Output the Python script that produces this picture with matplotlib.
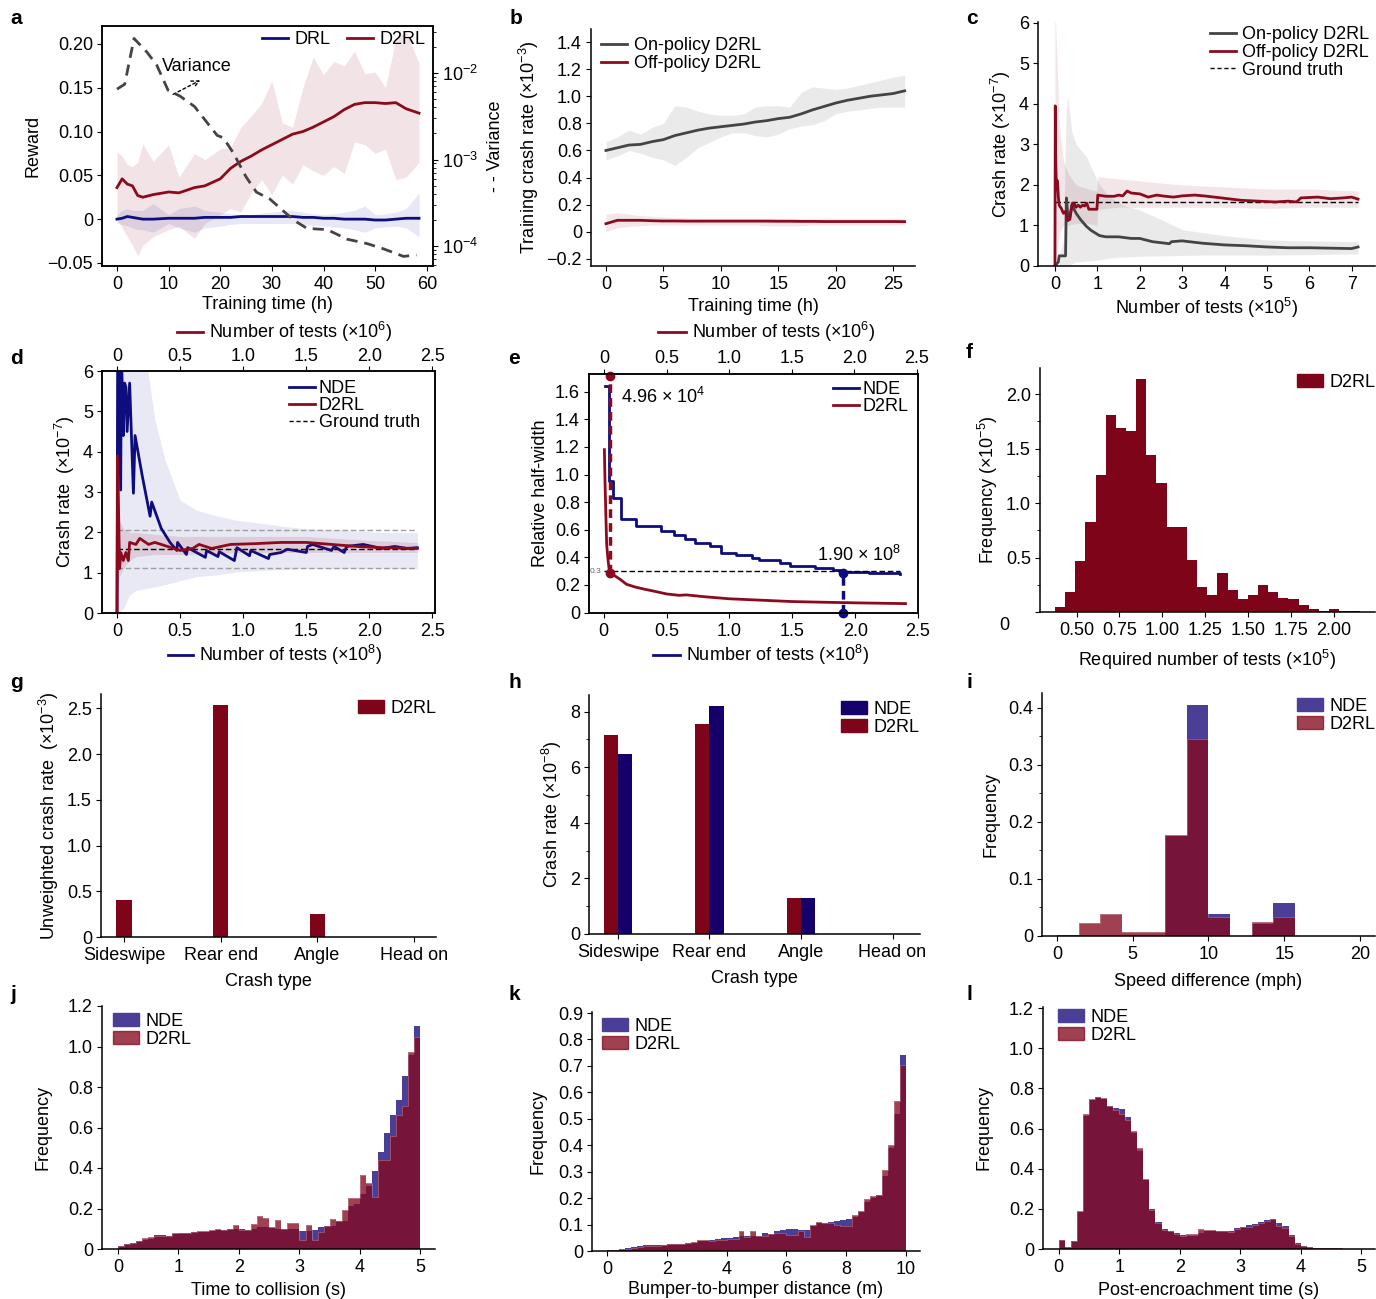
import matplotlib
matplotlib.use('Agg')
import matplotlib.pyplot as plt
from matplotlib.lines import Line2D
from matplotlib.patches import Patch
import numpy as np

plt.rcParams['font.family'] = ['Liberation Sans', 'DejaVu Sans']
plt.rcParams['font.size'] = 13
plt.rcParams['mathtext.fontset'] = 'custom'
plt.rcParams['mathtext.rm'] = 'Liberation Sans'
plt.rcParams['mathtext.it'] = 'Liberation Sans:italic'
plt.rcParams['mathtext.bf'] = 'Liberation Sans:bold'
plt.rcParams['mathtext.default'] = 'regular'
plt.rcParams['axes.linewidth'] = 1.1
plt.rcParams['xtick.major.size'] = 3.5
plt.rcParams['ytick.major.size'] = 3.5
plt.rcParams['xtick.minor.size'] = 2
plt.rcParams['ytick.minor.size'] = 2
plt.rcParams['xtick.major.pad'] = 4
plt.rcParams['ytick.major.pad'] = 3

RED = '#8b0a1e'
BLUE = '#0d0d7d'
GRAY = '#444444'
BAR_RED = '#7e0519'
BAR_BLUE = '#15006b'
H_BLUE = '#4b3e96'
H_RED = '#84081e'

# ---------------- data ----------------
# a: reward vs training time
a_t = [0, 1, 2, 3, 4, 5, 7, 10, 12, 15, 17, 20, 22, 24, 26, 28, 30, 32, 34, 36, 38, 40, 42, 44, 46, 48, 50, 52, 54, 56, 58.5]
a_d2rl = [0.036, 0.046, 0.040, 0.038, 0.027, 0.025, 0.028, 0.031, 0.030, 0.036, 0.038, 0.046, 0.058, 0.066, 0.072, 0.079,
          0.085, 0.091, 0.097, 0.100, 0.105, 0.111, 0.117, 0.125, 0.131, 0.133, 0.133, 0.132, 0.133, 0.126, 0.121]
a_d2rl_up = [0.077, 0.072, 0.062, 0.060, 0.065, 0.086, 0.066, 0.085, 0.048, 0.075, 0.068, 0.080, 0.082, 0.105, 0.118, 0.132,
             0.158, 0.110, 0.105, 0.150, 0.185, 0.165, 0.180, 0.175, 0.192, 0.166, 0.168, 0.150, 0.206, 0.215, 0.178]
a_d2rl_lo = [0.0, -0.010, -0.020, -0.030, -0.042, -0.030, -0.020, -0.012, -0.008, -0.022, -0.005, 0.005, 0.012, 0.008, 0.030,
             0.045, 0.028, 0.050, 0.040, 0.062, 0.055, 0.050, 0.060, 0.052, 0.088, 0.085, 0.075, 0.080, 0.045, 0.048, 0.065]
a_drl = [0.0, 0.001, 0.003, 0.002, 0.001, 0.0, 0.0, 0.001, 0.001, 0.001, 0.002, 0.002, 0.002, 0.003, 0.003, 0.003, 0.003,
         0.003, 0.003, 0.002, 0.002, 0.001, 0.001, 0.0, 0.0, 0.0, -0.001, -0.001, 0.0, 0.001, 0.001]
a_drl_up = [0.005, 0.010, 0.012, 0.010, 0.010, 0.010, 0.018, 0.005, 0.012, 0.015, 0.010, 0.008, 0.006, 0.005, 0.005, 0.007,
            0.008, 0.009, 0.010, 0.008, 0.006, 0.005, 0.006, 0.008, 0.010, 0.015, 0.005, 0.006, 0.008, 0.012, 0.030]
a_drl_lo = [-0.005, -0.006, -0.008, -0.010, -0.012, -0.012, -0.015, -0.005, -0.010, -0.015, -0.010, -0.008, -0.006, -0.005,
            -0.005, -0.005, -0.005, -0.005, -0.005, -0.006, -0.007, -0.008, -0.009, -0.010, -0.012, -0.015, -0.010, -0.009,
            -0.008, -0.010, -0.020]
var_t = [0, 1.5, 3.3, 5.8, 7.7, 9.9, 12.2, 15, 19.4, 20.6, 22.5, 25, 27, 29.6, 34.2, 36.8, 40.7, 44.6, 48.4, 51.6, 55.5, 58]
var_v = [6.5e-3, 7.4e-3, 2.5e-2, 1.74e-2, 1.23e-2, 6.3e-3, 5.4e-3, 4.1e-3, 1.9e-3, 1.78e-3, 1.2e-3, 6.3e-4, 4.2e-4, 3.5e-4,
         2.0e-4, 1.6e-4, 1.55e-4, 1.2e-4, 1.07e-4, 9.3e-5, 7.6e-5, 7.9e-5]

# b: training crash rate
b_t = list(range(27))
b_on = [0.60, 0.62, 0.64, 0.645, 0.665, 0.68, 0.71, 0.73, 0.75, 0.765, 0.775, 0.785, 0.795, 0.81, 0.82, 0.835, 0.845, 0.87,
        0.90, 0.925, 0.95, 0.97, 0.985, 1.0, 1.01, 1.02, 1.04]
b_on_up = [0.665, 0.70, 0.75, 0.72, 0.77, 0.80, 0.93, 0.92, 0.89, 0.87, 0.86, 0.86, 0.87, 0.92, 0.93, 0.93, 0.92, 1.03, 1.07,
           1.06, 1.05, 1.06, 1.08, 1.10, 1.12, 1.14, 1.155]
b_on_lo = [0.53, 0.56, 0.60, 0.58, 0.55, 0.53, 0.49, 0.55, 0.62, 0.66, 0.70, 0.73, 0.73, 0.71, 0.70, 0.72, 0.76, 0.78, 0.79,
           0.82, 0.87, 0.89, 0.90, 0.91, 0.92, 0.92, 0.92]
b_off = [0.06, 0.085, 0.085, 0.085, 0.082, 0.08, 0.08, 0.079, 0.079, 0.079, 0.079, 0.079, 0.079, 0.079, 0.079, 0.078, 0.078,
         0.077, 0.077, 0.076, 0.076, 0.076, 0.076, 0.076, 0.076, 0.076, 0.075]
b_off_up = [0.13, 0.14, 0.13, 0.12, 0.115, 0.11, 0.105, 0.105, 0.10, 0.10, 0.10, 0.10, 0.10, 0.10, 0.10, 0.10, 0.10, 0.10,
            0.10, 0.10, 0.10, 0.10, 0.10, 0.10, 0.10, 0.10, 0.10]
b_off_lo = [0.0, 0.03, 0.04, 0.045, 0.05, 0.05, 0.05, 0.05, 0.05, 0.05, 0.05, 0.05, 0.05, 0.05, 0.045, 0.045, 0.045, 0.045,
            0.05, 0.05, 0.05, 0.05, 0.05, 0.05, 0.05, 0.05, 0.05]

# c: crash rate vs number of tests (x1e5)
c_off_x = [0, 0.008, 0.015, 0.025, 0.04, 0.06, 0.08, 0.1, 0.15, 0.2, 0.25, 0.3, 0.35, 0.4, 0.45, 0.5, 0.55, 0.6, 0.65, 0.7,
           0.75, 0.8, 0.9, 0.99, 1.01, 1.2, 1.4, 1.5, 1.6, 1.7, 1.8, 2.0, 2.2, 2.4, 2.6, 2.8, 3.0, 3.3, 3.6, 4.0, 4.4, 4.8,
           5.2, 5.5, 5.7, 5.8, 6.2, 6.5, 6.8, 7.0, 7.15]
c_off_y = [0, 3.95, 2.8, 2.3, 1.9, 2.1, 1.7, 1.5, 1.42, 1.3, 1.35, 1.12, 1.15, 1.5, 1.55, 1.45, 1.5, 1.45, 1.5, 1.48, 1.55,
           1.4, 1.4, 1.4, 1.75, 1.72, 1.72, 1.75, 1.73, 1.85, 1.80, 1.78, 1.7, 1.75, 1.72, 1.7, 1.73, 1.75, 1.72, 1.67, 1.62,
           1.6, 1.58, 1.6, 1.58, 1.68, 1.7, 1.66, 1.68, 1.7, 1.65]
c_off_bx = [0, 0.05, 0.1, 0.2, 0.3, 0.5, 0.8, 0.99, 1.01, 1.5, 2.0, 3.0, 4.0, 5.0, 6.0, 7.15]
c_off_up = [6.5, 5.0, 3.5, 2.6, 2.3, 2.0, 1.9, 1.85, 2.2, 2.15, 2.1, 2.0, 1.95, 1.9, 1.9, 1.85]
c_off_lo = [0, 0.4, 0.8, 1.0, 1.0, 1.05, 1.05, 1.0, 1.4, 1.45, 1.45, 1.45, 1.45, 1.42, 1.45, 1.45]
c_on_x = [0, 0.08, 0.1, 0.25, 0.27, 0.3, 0.35, 0.41, 0.45, 0.5, 0.6, 0.74, 0.85, 1.05, 1.2, 1.5, 1.8, 2.0, 2.3, 2.7, 2.75,
          3.0, 3.5, 4.0, 4.5, 5.0, 5.5, 6.0, 6.5, 7.0, 7.15]
c_on_y = [0, 0.1, 0.25, 0.25, 1.68, 1.3, 1.2, 1.55, 1.4, 1.3, 1.15, 0.98, 0.88, 0.75, 0.72, 0.72, 0.68, 0.68, 0.6, 0.55, 0.6,
          0.62, 0.56, 0.52, 0.5, 0.47, 0.45, 0.45, 0.44, 0.43, 0.47]
c_on_bx = [0.1, 0.2, 0.26, 0.3, 0.4, 0.5, 0.74, 1.05, 1.3, 1.6, 2.0, 2.5, 3.0, 3.5, 4.0, 5.0, 6.0, 7.15]
c_on_up = [0.3, 0.6, 3.7, 4.2, 3.3, 3.0, 2.7, 2.0, 1.7, 1.5, 1.38, 1.15, 0.9, 0.82, 0.75, 0.64, 0.62, 0.6]
c_on_lo = [0, 0, 0, 0, 0.05, 0.1, 0.12, 0.15, 0.2, 0.22, 0.24, 0.25, 0.26, 0.27, 0.27, 0.27, 0.28, 0.3]
c_truth = 1.58

# d: NDE (x1e8) vs D2RL (x1e6)
d_nde_x = [0, 0.005, 0.011, 0.029, 0.035, 0.05, 0.06, 0.071, 0.08, 0.1, 0.13, 0.143, 0.2, 0.262, 0.275, 0.35, 0.42, 0.474,
           0.48, 0.55, 0.56, 0.7, 0.71, 0.8, 0.81, 0.93, 0.95, 1.05, 1.06, 1.2, 1.21, 1.3, 1.35, 1.5, 1.51, 1.55, 1.7, 1.72,
           1.8, 1.82, 1.95, 2.1, 2.2, 2.3, 2.38]
d_nde_y = [0, 6.5, 6.5, 3.05, 6.5, 4.4, 5.7, 5.6, 4.5, 5.7, 2.97, 4.4, 3.4, 2.4, 2.75, 2.1, 1.75, 1.55, 1.75, 1.45, 1.62,
           1.38, 1.55, 1.4, 1.52, 1.3, 1.62, 1.42, 1.55, 1.35, 1.45, 1.5, 1.58, 1.5, 1.65, 1.7, 1.55, 1.65, 1.5, 1.65, 1.7,
           1.6, 1.65, 1.6, 1.62]
d_nde_bx = [0, 0.05, 0.1, 0.15, 0.22, 0.3, 0.38, 0.5, 0.63, 0.8, 0.95, 1.2, 1.45, 1.8, 2.1, 2.38]
d_nde_up = [6.5, 6.5, 6.5, 6.5, 6.5, 4.8, 3.8, 2.8, 2.55, 2.4, 2.3, 2.2, 2.1, 2.05, 2.0, 2.0]
d_nde_lo = [0, 0.1, 0.45, 0.56, 0.6, 0.65, 0.7, 0.8, 0.9, 0.95, 1.02, 1.06, 1.1, 1.1, 1.1, 1.1]
d_d2rl_x = [0, 0.005, 0.02, 0.03, 0.05, 0.07, 0.09, 0.1, 0.15, 0.18, 0.25, 0.3, 0.4, 0.5, 0.6, 0.65, 0.75, 0.9, 1.1, 1.3,
            1.5, 1.7, 1.9, 2.1, 2.38]
d_d2rl_y = [0, 3.9, 1.1, 1.5, 1.3, 1.5, 1.3, 1.75, 1.7, 1.85, 1.7, 1.75, 1.65, 1.55, 1.6, 1.7, 1.6, 1.7, 1.72, 1.75, 1.75,
            1.7, 1.65, 1.62, 1.6]
d_d2rl_bx = [0, 0.005, 0.02, 0.05, 0.1, 0.15, 0.3, 0.5, 1.0, 1.5, 2.0, 2.38]
d_d2rl_up = [4.5, 5.0, 2.3, 2.1, 2.0, 2.0, 1.95, 1.9, 1.9, 1.9, 1.8, 1.75]
d_d2rl_lo = [0, 0.5, 0.9, 1.1, 1.3, 1.4, 1.45, 1.45, 1.5, 1.5, 1.5, 1.5]
d_truth = 1.58
d_ci = [2.05, 1.12]

# e: relative half-width
e_nde_x = [0.013, 0.039, 0.073, 0.138, 0.256, 0.459, 0.556, 0.647, 0.730, 0.842, 0.934, 1.05, 1.18, 1.233, 1.40, 1.48,
           1.677, 1.82, 1.91, 2.107, 2.355]
e_nde_y = [1.64, 0.95, 0.83, 0.68, 0.63, 0.59, 0.56, 0.53, 0.505, 0.48, 0.433, 0.42, 0.397, 0.38, 0.36, 0.337, 0.325,
           0.308, 0.293, 0.284, 0.277]
e_d2rl_x = [0.003, 0.008, 0.015, 0.021, 0.03, 0.04, 0.05, 0.08, 0.13, 0.18, 0.25, 0.32, 0.4, 0.5, 0.6, 0.66, 0.8, 1.0, 1.25,
            1.5, 1.75, 2.05, 2.41]
e_d2rl_y = [1.18, 0.95, 0.7, 0.5, 0.4, 0.32, 0.29, 0.27, 0.24, 0.205, 0.185, 0.17, 0.155, 0.135, 0.125, 0.128, 0.115, 0.10,
            0.09, 0.08, 0.075, 0.07, 0.065]
e_thr = 0.3
e_d2rl_need = 0.0496   # x1e6
e_nde_need = 1.90      # x1e8

# f: required number of tests histogram (x1e5)
f_start, f_width = 0.374, 0.0592
f_freq = [0.046, 0.18, 0.47, 0.83, 1.26, 1.81, 1.69, 1.66, 2.14, 1.44, 1.18, 0.78, 0.78, 0.48, 0.23, 0.16, 0.36, 0.20,
          0.12, 0.16, 0.245, 0.18, 0.13, 0.12, 0.06, 0.025, 0.01, 0.028, 0.01, 0.01]

# g, h: crash types
crash_types = ['Sideswipe', 'Rear end', 'Angle', 'Head on']
g_d2rl = [0.41, 2.54, 0.25, 0.0]
h_d2rl = [7.16, 7.55, 1.29, 0.0]
h_nde = [6.47, 8.2, 1.29, 0.0]

# i: speed difference
i_nde = [0.002, 0.0, 0.0, 0.0, 0.0, 0.175, 0.406, 0.039, 0.0, 0.021, 0.058, 0.0, 0.0, 0.0]
i_d2rl = [0.0023, 0.023, 0.039, 0.0076, 0.0076, 0.177, 0.345, 0.033, 0.0, 0.025, 0.033, 0.0, 0.0, 0.0]

# j: time to collision (0.1 s bins)
j_nde = [0.015, 0.024, 0.03, 0.04, 0.045, 0.05, 0.068, 0.068, 0.064, 0.076, 0.078, 0.079, 0.082, 0.085, 0.084, 0.09,
         0.094, 0.095, 0.097, 0.10, 0.10, 0.093, 0.10, 0.11, 0.11, 0.105, 0.10, 0.098, 0.10, 0.10, 0.09, 0.09, 0.092,
         0.107, 0.112, 0.115, 0.14, 0.14, 0.21, 0.22, 0.27, 0.31, 0.385, 0.48, 0.575, 0.66, 0.735, 0.855, 0.96, 1.103]
j_d2rl = [0.016, 0.025, 0.03, 0.041, 0.054, 0.059, 0.066, 0.066, 0.063, 0.077, 0.079, 0.079, 0.084, 0.087, 0.087, 0.096,
          0.10, 0.096, 0.099, 0.119, 0.096, 0.092, 0.122, 0.165, 0.152, 0.109, 0.145, 0.099, 0.129, 0.129, 0.046, 0.119,
          0.043, 0.082, 0.112, 0.148, 0.14, 0.194, 0.252, 0.252, 0.363, 0.326, 0.255, 0.438, 0.438, 0.557, 0.664, 0.705,
          0.972, 1.047]

# k: bumper-to-bumper distance (0.2 m bins)
k_nde = [0.003, 0.005, 0.007, 0.012, 0.016, 0.02, 0.022, 0.022, 0.023, 0.024, 0.025, 0.026, 0.027, 0.029, 0.032, 0.036,
         0.038, 0.04, 0.045, 0.048, 0.05, 0.052, 0.055, 0.055, 0.057, 0.058, 0.068, 0.065, 0.075, 0.08, 0.085, 0.085,
         0.08, 0.08, 0.095, 0.105, 0.105, 0.108, 0.115, 0.118, 0.12, 0.128, 0.148, 0.185, 0.2, 0.21, 0.285, 0.39, 0.52,
         0.74]
k_d2rl = [0.003, 0.004, 0.006, 0.009, 0.013, 0.015, 0.018, 0.018, 0.02, 0.021, 0.025, 0.026, 0.028, 0.03, 0.034, 0.04,
          0.04, 0.038, 0.04, 0.042, 0.045, 0.045, 0.077, 0.053, 0.077, 0.057, 0.055, 0.066, 0.069, 0.069, 0.062, 0.059,
          0.074, 0.053, 0.097, 0.111, 0.107, 0.107, 0.100, 0.095, 0.095, 0.135, 0.15, 0.195, 0.208, 0.213, 0.305, 0.402,
          0.567, 0.702]

# l: post-encroachment time (0.1 s bins)
l_nde = [0.046, 0.012, 0.042, 0.185, 0.66, 0.74, 0.755, 0.745, 0.71, 0.70, 0.695, 0.655, 0.58, 0.49, 0.345, 0.20, 0.135,
         0.10, 0.09, 0.08, 0.07, 0.065, 0.065, 0.08, 0.09, 0.09, 0.09, 0.09, 0.09, 0.105, 0.11, 0.12, 0.125, 0.135, 0.145,
         0.15, 0.13, 0.115, 0.07, 0.03, 0.015, 0.008, 0.005, 0.005, 0.005, 0.003, 0.003, 0.001, 0.001, 0.001]
l_d2rl = [0.046, 0.012, 0.038, 0.188, 0.672, 0.749, 0.757, 0.752, 0.71, 0.69, 0.674, 0.644, 0.586, 0.503, 0.349, 0.196,
          0.13, 0.093, 0.088, 0.076, 0.066, 0.076, 0.076, 0.10, 0.096, 0.093, 0.09, 0.09, 0.083, 0.10, 0.11, 0.11, 0.121,
          0.13, 0.138, 0.149, 0.113, 0.105, 0.063, 0.025, 0.013, 0.008, 0.005, 0.005, 0.005, 0.003, 0.004, 0.001, 0.001,
          0.001]

# ---------------- figure ----------------
W, H = 1376, 1299
fig = plt.figure(figsize=(W / 100, H / 100), dpi=100)


def make_ax(l, t, r, b, box=False):
    ax = fig.add_axes([l / W, 1 - b / H, (r - l) / W, (b - t) / H])
    if not box:
        ax.spines['top'].set_visible(False)
        ax.spines['right'].set_visible(False)
    return ax


def leg(ax, handles, x, y, **kw):
    opts = dict(loc='upper left', bbox_to_anchor=(x / W, 1 - y / H), bbox_transform=fig.transFigure,
                frameon=False, borderpad=0, borderaxespad=0, handlelength=1.45, handletextpad=0.35,
                labelspacing=0.05, fontsize=13)
    opts.update(kw)
    ax.legend(handles=handles, **opts)


def letter(x, y, s):
    fig.text(x / W, 1 - y / H, s, fontweight='bold', fontsize=15, va='center', ha='left')


def line_label(x0, x1, y, text, color):
    fig.add_artist(Line2D([x0 / W, x1 / W], [1 - y / H, 1 - y / H], transform=fig.transFigure, color=color, lw=2))
    fig.text((x1 + 6) / W, 1 - y / H, text, va='center', ha='left', fontsize=13)


# ---- a ----
ax = make_ax(102, 26, 433, 266, box=True)
ax.fill_between(a_t, a_d2rl_lo, a_d2rl_up, color=RED, alpha=0.11, lw=0)
ax.fill_between(a_t, a_drl_lo, a_drl_up, color='#3a3ab0', alpha=0.12, lw=0)
ax.plot(a_t, a_drl, color=BLUE, lw=2)
ax.plot(a_t, a_d2rl, color=RED, lw=2)
ax.set_xlim(-2.9, 61.2)
ax.set_ylim(-0.0535, 0.2205)
ax.set_xticks([0, 10, 20, 30, 40, 50, 60])
ax.set_yticks([-0.05, 0, 0.05, 0.10, 0.15, 0.20])
ax.set_yticklabels(['\u22120.05', '0', '0.05', '0.10', '0.15', '0.20'])
ax.set_xlabel('Training time (h)', labelpad=2)
ax.set_ylabel('Reward', labelpad=4)
ax2 = ax.twinx()
ax2.plot(var_t, var_v, color='#4a4048', lw=2, ls=(0, (4, 2.5)))
ax2.set_yscale('log')
ax2.set_ylim(10 ** -4.23, 10 ** -1.458)
ax2.set_ylabel('- - Variance', labelpad=6)
ax.annotate('', xy=(16.6, 0.160), xytext=(10.4, 0.141),
            arrowprops=dict(arrowstyle='->', ls=(0, (2, 2)), color='k', lw=1))
ax.text(8.8, 0.174, 'Variance', va='center', ha='left', fontsize=13)
leg(ax, [Line2D([], [], color=BLUE, lw=2), Line2D([], [], color=RED, lw=2)], 262, 31,
    labels=['DRL', 'D2RL'], ncol=2, columnspacing=0.9)
letter(10, 18, 'a')

# ---- b ----
ax = make_ax(591, 29, 915, 266)
ax.fill_between(b_t, b_on_lo, b_on_up, color='#9a9a9a', alpha=0.2, lw=0)
ax.fill_between(b_t, b_off_lo, b_off_up, color=RED, alpha=0.1, lw=0)
ax.plot(b_t, b_on, color=GRAY, lw=2)
ax.plot(b_t, b_off, color=RED, lw=2)
ax.set_xlim(-1.3, 26.9)
ax.set_ylim(-0.252, 1.496)
ax.set_xticks([0, 5, 10, 15, 20, 25])
ax.set_yticks([-0.2, 0, 0.2, 0.4, 0.6, 0.8, 1.0, 1.2, 1.4])
ax.set_yticklabels(['\u22120.2', '0', '0.2', '0.4', '0.6', '0.8', '1.0', '1.2', '1.4'])
ax.set_xlabel('Training time (h)', labelpad=3)
ax.set_ylabel('Training crash rate (\u00d710$^{-3}$)', labelpad=4)
leg(ax, [Line2D([], [], color=GRAY, lw=2), Line2D([], [], color=RED, lw=2)], 601, 37,
    labels=['On-policy D2RL', 'Off-policy D2RL'])
letter(510, 18, 'b')

# ---- c ----
ax = make_ax(1038, 22, 1375, 266)
ax.fill_between(c_on_bx, c_on_lo, c_on_up, color='#9a9a9a', alpha=0.2, lw=0)
ax.fill_between(c_off_bx, c_off_lo, c_off_up, color=RED, alpha=0.1, lw=0)
ax.plot([0, 7.15], [c_truth, c_truth], color='k', lw=1, ls=(0, (4, 2)))
ax.plot(c_on_x, c_on_y, color=GRAY, lw=2)
ax.plot(c_off_x, c_off_y, color=RED, lw=2)
ax.set_xlim(-0.4, 7.55)
ax.set_ylim(0, 6.02)
ax.set_xticks(range(8))
ax.set_yticks(range(7))
ax.set_xlabel('Number of tests (\u00d710$^{5}$)', labelpad=2)
ax.set_ylabel('Crash rate (\u00d710$^{-7}$)', labelpad=4)
leg(ax, [Line2D([], [], color=GRAY, lw=2), Line2D([], [], color=RED, lw=2),
         Line2D([], [], color='k', lw=1, ls=(0, (3, 2)))], 1210, 26,
    labels=['On-policy D2RL', 'Off-policy D2RL', 'Ground truth'])
letter(966, 18, 'c')

# ---- d ----
ax = make_ax(102, 371, 435, 613, box=True)
ax.fill_between(d_nde_bx, d_nde_lo, d_nde_up, color='#5a5ab8', alpha=0.13, lw=0)
for v in d_ci:
    ax.plot([0, 2.38], [v, v], color='#a0a0a0', lw=1, ls=(0, (4, 2)))
ax.plot([0, 2.38], [d_truth, d_truth], color='k', lw=1, ls=(0, (4, 2)))
ax.plot(d_nde_x, d_nde_y, color=BLUE, lw=2)
ax.set_xlim(-0.119, 2.52)
ax.set_ylim(0, 6.0)
ax.set_xticks([0, 0.5, 1.0, 1.5, 2.0, 2.5])
ax.set_xticklabels(['0', '0.5', '1.0', '1.5', '2.0', '2.5'])
ax.set_yticks(range(7))
ax.set_ylabel('Crash rate  (\u00d710$^{-7}$)', labelpad=4)
axt = ax.twiny()
axt.fill_between(d_d2rl_bx, d_d2rl_lo, d_d2rl_up, color=RED, alpha=0.12, lw=0)
axt.plot(d_d2rl_x, d_d2rl_y, color=RED, lw=2)
axt.set_xlim(-0.119, 2.52)
axt.set_ylim(0, 6.0)
axt.set_xticks([0, 0.5, 1.0, 1.5, 2.0, 2.5])
axt.set_xticklabels(['0', '0.5', '1.0', '1.5', '2.0', '2.5'])
axt.tick_params(axis='x', pad=1)
line_label(177, 203, 332, 'Number of tests (\u00d710$^{6}$)', RED)
line_label(168, 193, 655, 'Number of tests (\u00d710$^{8}$)', BLUE)
leg(axt, [Line2D([], [], color=BLUE, lw=2), Line2D([], [], color=RED, lw=2),
          Line2D([], [], color='k', lw=1, ls=(0, (3, 2)))], 289, 380,
    labels=['NDE', 'D2RL', 'Ground truth'], handletextpad=0.2, labelspacing=0.0)
letter(10, 358, 'd')

# ---- e ----
ax = make_ax(589, 374, 918, 613, box=True)
ax.plot(e_nde_x, e_nde_y, color=BLUE, lw=2, drawstyle='steps-post')
ax.plot([0, 2.36], [e_thr, e_thr], color='k', lw=1, ls=(0, (4, 2)))
ax.plot([e_nde_need, e_nde_need], [0, 0.29], color=BLUE, lw=2.5, ls=(0, (2.5, 1.5)))
ax.plot([e_nde_need, e_nde_need], [0, 0.29], 'o', color=BLUE, ms=6, clip_on=False)
ax.text(-0.11, e_thr, '0.3', fontsize=6, color='#666666', va='center', ha='left')
ax.text(0.138, 1.564, '4.96 \u00d7 10$^{4}$', va='center', ha='left', fontsize=13)
ax.text(1.70, 0.42, '1.90 \u00d7 10$^{8}$', va='center', ha='left', fontsize=13)
ax.set_xlim(-0.117, 2.45)
ax.set_ylim(-0.003, 1.728)
ax.set_xticks([0, 0.5, 1.0, 1.5, 2.0, 2.5])
ax.set_xticklabels(['0', '0.5', '1.0', '1.5', '2.0', '2.5'])
ax.set_yticks([0, 0.2, 0.4, 0.6, 0.8, 1.0, 1.2, 1.4, 1.6])
ax.set_yticklabels(['0', '0.2', '0.4', '0.6', '0.8', '1.0', '1.2', '1.4', '1.6'])
ax.set_ylabel('Relative half-width', labelpad=4)
axt = ax.twiny()
axt.plot(e_d2rl_x, e_d2rl_y, color=RED, lw=2)
axt.plot([e_d2rl_need, e_d2rl_need], [0.29, 1.71], color=RED, lw=2.5, ls=(0, (2.5, 1.5)))
axt.plot([e_d2rl_need, e_d2rl_need], [0.29, 1.71], 'o', color=RED, ms=6, clip_on=False)
axt.set_xlim(-0.12, 2.51)
axt.set_ylim(-0.003, 1.728)
axt.set_xticks([0, 0.5, 1.0, 1.5, 2.0, 2.5])
axt.set_xticklabels(['0', '0.5', '1.0', '1.5', '2.0', '2.5'])
axt.tick_params(axis='x', pad=1.5)
line_label(658, 686, 332, 'Number of tests (\u00d710$^{6}$)', RED)
line_label(653, 680, 655, 'Number of tests (\u00d710$^{8}$)', BLUE)
leg(axt, [Line2D([], [], color=BLUE, lw=2), Line2D([], [], color=RED, lw=2)], 833, 381,
    labels=['NDE', 'D2RL'], handletextpad=0.2, labelspacing=0.0)
letter(508, 358, 'e')

# ---- f ----
ax = make_ax(1040, 368, 1375, 612)
f_edges = f_start + f_width * np.arange(len(f_freq) + 1)
ax.stairs(f_freq, f_edges, fill=True, color=BAR_RED, lw=0)
ax.set_xlim(0.287, 2.24)
ax.set_ylim(0, 2.24)
ax.set_xticks([0.5, 0.75, 1.0, 1.25, 1.5, 1.75, 2.0])
ax.set_xticklabels(['0.50', '0.75', '1.00', '1.25', '1.50', '1.75', '2.00'])
ax.set_yticks([0, 0.5, 1.0, 1.5, 2.0])
ax.set_yticklabels(['', '0.5', '1.0', '1.5', '2.0'])
ax.set_yticks([0.25, 0.75, 1.25, 1.75], minor=True)
fig.text(1004 / W, 1 - 625 / H, '0', va='center', ha='center', fontsize=13)
ax.set_xlabel('Required number of tests (\u00d710$^{5}$)', labelpad=6)
ax.set_ylabel('Frequency (\u00d710$^{-5}$)', labelpad=4)
leg(ax, [Patch(color=BAR_RED)], 1297, 374, labels=['D2RL'])
letter(966, 352, 'f')

# ---- g ----
ax = make_ax(101, 694, 436, 937)
xg = np.arange(len(crash_types))
ax.bar(xg, g_d2rl, width=0.159, color=BAR_RED)
ax.set_xlim(-0.238, 3.227)
ax.set_ylim(0, 2.657)
ax.set_xticks(xg)
ax.set_xticklabels(crash_types)
ax.set_yticks([0, 0.5, 1.0, 1.5, 2.0, 2.5])
ax.set_yticklabels(['0', '0.5', '1.0', '1.5', '2.0', '2.5'])
ax.set_xlabel('Crash type', labelpad=6)
ax.set_ylabel('Unweighted crash rate  (\u00d710$^{-3}$)', labelpad=4)
leg(ax, [Patch(color=BAR_RED)], 358, 700, labels=['D2RL'])
letter(10, 683, 'g')

# ---- h ----
ax = make_ax(589, 695, 920, 934)
xh = np.arange(len(crash_types))
ax.bar(xh - 0.077, h_d2rl, width=0.154, color=BAR_RED)
ax.bar(xh + 0.077, h_nde, width=0.154, color=BAR_BLUE)
ax.set_xlim(-0.316, 3.3)
ax.set_ylim(0, 8.6)
ax.set_xticks(xh)
ax.set_xticklabels(crash_types)
ax.set_yticks([0, 2, 4, 6, 8])
ax.set_yticks([1, 3, 5, 7], minor=True)
ax.set_xlabel('Crash type', labelpad=6)
ax.set_ylabel('Crash rate (\u00d710$^{-8}$)', labelpad=4)
leg(ax, [Patch(color=BAR_BLUE), Patch(color=BAR_RED)], 841, 701, labels=['NDE', 'D2RL'])
letter(508, 683, 'h')


# ---- histograms i-l ----
def overlay_hist(ax, edges, nde, d2rl):
    ax.stairs(nde, edges, fill=True, color=H_BLUE, lw=0)
    ax.stairs(d2rl, edges, fill=True, color=H_RED, alpha=0.77, lw=0)
    # faint outline of the D2RL bins, as in the original
    ax.stairs(d2rl, edges, fill=False, color='white', alpha=0.3, lw=0.6)


hist_handles = [Patch(color=H_BLUE), Patch(color=H_RED, alpha=0.77)]

ax = make_ax(1042, 693, 1375, 936)
overlay_hist(ax, np.linspace(0, 20, len(i_nde) + 1), i_nde, i_d2rl)
ax.set_xlim(-0.99, 21)
ax.set_ylim(0, 0.4263)
ax.set_xticks([0, 5, 10, 15, 20])
ax.set_yticks([0, 0.1, 0.2, 0.3, 0.4])
ax.set_yticklabels(['0', '0.1', '0.2', '0.3', '0.4'])
ax.set_yticks([0.05, 0.15, 0.25, 0.35], minor=True)
ax.set_xlabel('Speed difference (mph)', labelpad=7)
ax.set_ylabel('Frequency', labelpad=6)
leg(ax, hist_handles, 1297, 698, labels=['NDE', 'D2RL'])
letter(966, 683, 'i')

ax = make_ax(102, 1006, 435, 1249)
overlay_hist(ax, np.linspace(0, 5, len(j_nde) + 1), j_nde, j_d2rl)
ax.set_xlim(-0.264, 5.24)
ax.set_ylim(0, 1.2)
ax.set_xticks(range(6))
ax.set_yticks([0, 0.2, 0.4, 0.6, 0.8, 1.0, 1.2])
ax.set_yticklabels(['0', '0.2', '0.4', '0.6', '0.8', '1.0', '1.2'])
ax.set_xlabel('Time to collision (s)', labelpad=4)
ax.set_ylabel('Frequency', labelpad=12)
leg(ax, hist_handles, 113, 1013, labels=['NDE', 'D2RL'])
letter(10, 995, 'j')

ax = make_ax(592, 1012, 920, 1251)
overlay_hist(ax, np.linspace(0, 10, len(k_nde) + 1), k_nde, k_d2rl)
ax.set_xlim(-0.5, 10.47)
ax.set_ylim(0, 0.904)
ax.set_xticks([0, 2, 4, 6, 8, 10])
ax.set_yticks([0, 0.1, 0.2, 0.3, 0.4, 0.5, 0.6, 0.7, 0.8, 0.9])
ax.set_yticklabels(['0', '0.1', '0.2', '0.3', '0.4', '0.5', '0.6', '0.7', '0.8', '0.9'])
ax.set_xlabel('Bumper-to-bumper distance (m)', labelpad=2)
ax.set_ylabel('Frequency', labelpad=8)
leg(ax, hist_handles, 602, 1018, labels=['NDE', 'D2RL'])
letter(508, 995, 'k')

ax = make_ax(1043, 1007, 1375, 1249)
overlay_hist(ax, np.linspace(0, 5, len(l_nde) + 1), l_nde, l_d2rl)
ax.set_xlim(-0.26, 5.23)
ax.set_ylim(0, 1.205)
ax.set_xticks(range(6))
ax.set_yticks([0, 0.2, 0.4, 0.6, 0.8, 1.0, 1.2])
ax.set_yticklabels(['0', '0.2', '0.4', '0.6', '0.8', '1.0', '1.2'])
ax.set_xlabel('Post-encroachment time (s)', labelpad=4)
ax.set_ylabel('Frequency', labelpad=12)
leg(ax, hist_handles, 1058, 1009, labels=['NDE', 'D2RL'])
letter(966, 995, 'l')

fig.savefig('out.png', dpi=100)
